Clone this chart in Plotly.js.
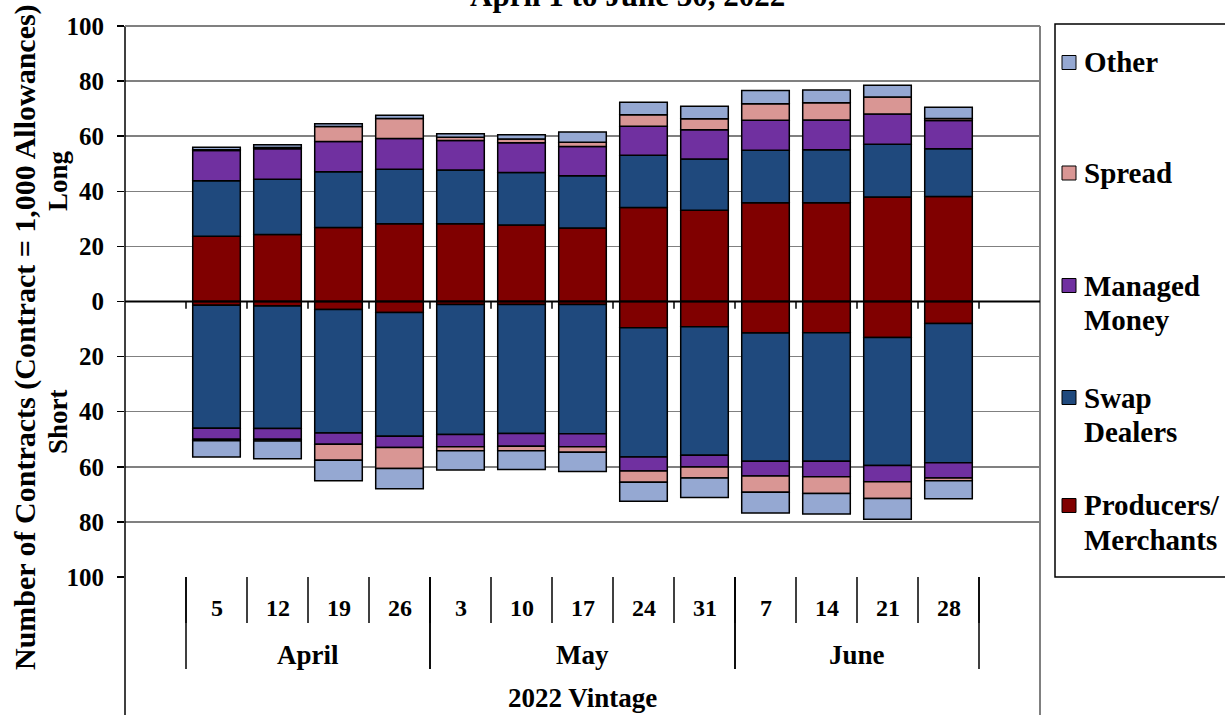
<!DOCTYPE html>
<html>
<head>
<meta charset="utf-8">
<script src="https://cdn.plot.ly/plotly-3.0.1.min.js"></script>
<style>html,body{margin:0;padding:0;background:#fff;}#chart{width:1225px;height:715px;}</style>
</head>
<body>
<div id="chart"></div>
<script>
// ---- data ----
var days = ['5','12','19','26','3','10','17','24','31','7','14','21','28'];
var months = ['April','May','June'];
var monthCounts = [4, 5, 4];
var groupLabel = '2022 Vintage';
var chartTitle = 'April 1 to June 30, 2022';

var seriesNames = ['Producers/Merchants','Swap Dealers','Managed Money','Spread','Other'];
var legendLines = [['Other'],['Spread'],['Managed','Money'],['Swap','Dealers'],['Producers/','Merchants']];

var prodLong   = [23.7, 24.3, 26.9, 28.2, 28.2, 27.8, 26.7, 34.1, 33.1, 35.8, 35.8, 37.9, 38.1];
var swapLong   = [20.1, 20.1, 20.2, 19.8, 19.5, 19.0, 18.9, 19.0, 18.6, 19.1, 19.3, 19.2, 17.3];
var mmLong     = [11.0, 11.0, 11.0, 11.2, 10.7, 10.8, 10.7, 10.5, 10.6, 10.9, 10.8, 11.0, 10.3];
var spreadLong = [0.3, 0.5, 5.4, 7.2, 1.2, 1.4, 1.5, 4.2, 4.0, 6.0, 6.2, 6.1, 0.7];
var otherLong  = [0.9, 1.0, 1.0, 1.2, 1.3, 1.5, 3.7, 4.5, 4.6, 4.8, 4.7, 4.3, 4.1];

var prodShort   = [1.4, 1.6, 2.9, 4.0, 1.1, 1.1, 1.1, 9.5, 9.2, 11.4, 11.3, 13.1, 8.0];
var swapShort   = [44.6, 44.5, 44.8, 44.9, 47.2, 46.8, 46.9, 46.9, 46.6, 46.6, 46.7, 46.4, 50.5];
var mmShort     = [4.0, 3.9, 4.1, 4.1, 4.4, 4.6, 4.7, 5.1, 4.3, 5.3, 5.6, 5.9, 5.6];
var spreadShort = [0.5, 0.6, 5.8, 7.6, 1.5, 1.7, 2.0, 4.1, 4.0, 5.9, 6.1, 6.1, 1.0];
var otherShort  = [5.9, 6.5, 7.5, 7.4, 7.0, 6.8, 7.0, 6.9, 7.0, 7.6, 7.4, 7.5, 6.5];

var yTickVals = [-100,-80,-60,-40,-20,0,20,40,60,80,100];
var yTickText = ['100','80','60','40','20','0','20','40','60','80','100'];

var colors = ['#800000','#1F497D','#7030A0','#D99694','#95A8D2'];

// ---- build ----
var xs = days.map(function(d, i){ return i + 1; });
var nSlots = days.length + 2;
var longSets = [prodLong, swapLong, mmLong, spreadLong, otherLong];
var shortSets = [prodShort, swapShort, mmShort, spreadShort, otherShort];
var traces = [];
function barTrace(vals, k, neg){
  return {
    type: 'bar', x: xs, y: vals.map(function(v){ return neg ? -v : v; }),
    name: seriesNames[k], showlegend: false, width: 0.78,
    marker: {color: colors[k], line: {color: '#000', width: 1.5}},
    hoverinfo: 'skip'
  };
}
longSets.forEach(function(s, k){ traces.push(barTrace(s, k, false)); });
shortSets.forEach(function(s, k){ traces.push(barTrace(s, k, true)); });

var L = 125, R = 1040, T = 26, B = 577, W = 1225, H = 715;
function px(p){ return (p - L) / (R - L); }
function py(p){ return (B - p) / (B - T); }

var F = 'Liberation Serif, Times New Roman, serif';
var ann = [];
var shapes = [];
function note(o){ o.showarrow = false; if(!o.xanchor) o.xanchor = 'center'; if(!o.yanchor) o.yanchor = 'middle'; ann.push(o); }

// day labels & separators
days.forEach(function(d, i){
  note({xref:'x', yref:'paper', x: i + 1, y: py(608), text: d,
    font:{family:F, size:24, weight:'bold', color:'#000'}});
});
for (var k = 0; k <= days.length; k++) {
  shapes.push({type:'line', xref:'x', yref:'paper', x0: k + 0.5, x1: k + 0.5, y0: py(577), y1: py(623),
    line:{color:'#000', width:1.5}});
  shapes.push({type:'line', xref:'x', yref:'y', x0: k + 0.5, x1: k + 0.5, y0: 0, y1: -2.6,
    line:{color:'#000', width:1.5}, layer:'above'});
}
// month labels & separators
var start = 1;
months.forEach(function(m, j){
  var end = start + monthCounts[j] - 1;
  note({xref:'x', yref:'paper', x: (start + end) / 2, y: py(655), text: m,
    font:{family:F, size:27, weight:'bold', color:'#000'}});
  shapes.push({type:'line', xref:'x', yref:'paper', x0: start - 0.5, x1: start - 0.5, y0: py(577), y1: py(669),
    line:{color:'#000', width:1.5}});
  shapes.push({type:'line', xref:'x', yref:'paper', x0: end + 0.5, x1: end + 0.5, y0: py(577), y1: py(669),
    line:{color:'#000', width:1.5}});
  start = end + 1;
});
note({xref:'x', yref:'paper', x: (1 + days.length) / 2, y: py(698), text: groupLabel,
  font:{family:F, size:27, weight:'bold', color:'#000'}});
// outer borders extending down
shapes.push({type:'line', xref:'paper', yref:'paper', x0:0, x1:0, y0:1, y1: py(H + 5), line:{color:'#000', width:1.5}});
shapes.push({type:'line', xref:'paper', yref:'paper', x0:1, x1:1, y0:1, y1: py(H + 5), line:{color:'#808080', width:2}});
shapes.push({type:'line', xref:'paper', yref:'paper', x0:0, x1:1, y0:1, y1:1, line:{color:'#808080', width:2}});
// zero line
shapes.push({type:'line', xref:'paper', yref:'y', x0:0, x1:1, y0:0, y1:0, line:{color:'#000', width:2}, layer:'above'});

// title (cut off at top, as in the original)
note({xref:'paper', yref:'paper', x: px(627), y: py(-5), text: chartTitle,
  font:{family:F, size:31, weight:'bold', color:'#000'}});
// y-axis titles
note({xref:'paper', yref:'paper', x: px(25), y: py(337), text: 'Number of Contracts (Contract = 1,000 Allowances)',
  textangle:-90, font:{family:F, size:30, weight:'bold', color:'#000'}});
note({xref:'paper', yref:'paper', x: px(58), y: py(181), text: 'Long',
  textangle:-90, font:{family:F, size:27, weight:'bold', color:'#000'}});
note({xref:'paper', yref:'paper', x: px(58), y: py(422), text: 'Short',
  textangle:-90, font:{family:F, size:27, weight:'bold', color:'#000'}});

// legend box
shapes.push({type:'rect', xref:'paper', yref:'paper', x0: px(1055), x1: px(1260), y0: py(24), y1: py(577),
  line:{color:'#000', width:1.5}, fillcolor:'rgba(0,0,0,0)'});
var legendY = [62.5, 173, 285.5, 397.5, 505.5];
var legendColors = [colors[4], colors[3], colors[2], colors[1], colors[0]];
legendLines.forEach(function(lines, i){
  var cy = legendY[i];
  shapes.push({type:'rect', xref:'paper', yref:'paper', x0: px(1062), x1: px(1076), y0: py(cy - 7), y1: py(cy + 7),
    line:{color:'#000', width:1}, fillcolor: legendColors[i]});
  lines.forEach(function(t, j){
    note({xref:'paper', yref:'paper', x: px(1082), y: py(cy + j * 34), xanchor:'left', text: t,
      font:{family:F, size:29, weight:'bold', color:'#000'}});
  });
});

var layout = {
  width: W, height: H,
  margin: {l: L, r: W - R, t: T, b: H - B, pad: 0},
  paper_bgcolor: '#fff', plot_bgcolor: '#fff',
  barmode: 'relative',
  showlegend: false,
  font: {family: F, size: 25, weight: 'bold', color: '#000'},
  xaxis: {range: [-0.5, nSlots - 0.5], showticklabels: false, showgrid: false, zeroline: false,
    ticks: '', showline: false, fixedrange: true},
  yaxis: {range: [-100, 100], tickvals: yTickVals, ticktext: yTickText, showgrid: true,
    gridcolor: '#808080', gridwidth: 1.5, zeroline: false, ticks: 'outside', ticklen: 7,
    tickcolor: '#000', tickwidth: 1.5, ticklabelstandoff: 8,
    tickfont: {family: F, size: 25, weight: 'bold', color: '#000'}, showline: false, fixedrange: true},
  shapes: shapes,
  annotations: ann
};
Plotly.newPlot('chart', traces, layout, {displayModeBar: false, staticPlot: true});
</script>
</body>
</html>
